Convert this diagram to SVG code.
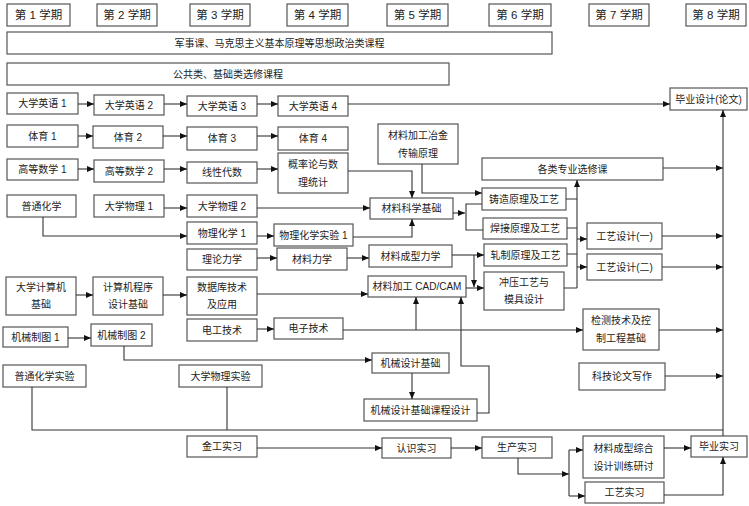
<svg xmlns="http://www.w3.org/2000/svg" width="749" height="506" viewBox="0 0 749 506">
<style>
rect{fill:#fff;stroke:#555;stroke-width:1.2}
text{font-family:"Liberation Sans","Noto Sans CJK SC",sans-serif;font-size:10px;fill:#222;text-anchor:middle;dominant-baseline:central}
.h text{font-size:11.5px}
#connectors path{fill:none;stroke:#333;stroke-width:1.1}
.ar{marker-end:url(#a)}
</style>
<defs>
<marker id="a" markerWidth="7" markerHeight="6" refX="7" refY="3" orient="auto" markerUnits="userSpaceOnUse"><path d="M0,0 L7,3 L0,6 z" fill="#111"/></marker>
</defs>
<rect x="0" y="0" width="749" height="506" style="fill:#fff;stroke:none"/>
<g class="h">
<g id="s1"><rect x="7" y="4" width="63" height="22"/><text x="38.5" y="15">第 1 学期</text></g>
<g id="s2"><rect x="97" y="4" width="60" height="22"/><text x="127" y="15">第 2 学期</text></g>
<g id="s3"><rect x="190" y="4" width="60" height="22"/><text x="220" y="15">第 3 学期</text></g>
<g id="s4"><rect x="287" y="4" width="61" height="22"/><text x="317.5" y="15">第 4 学期</text></g>
<g id="s5"><rect x="387" y="4" width="61" height="22"/><text x="417.5" y="15">第 5 学期</text></g>
<g id="s6"><rect x="489" y="4" width="62" height="22"/><text x="520" y="15">第 6 学期</text></g>
<g id="s7"><rect x="589" y="4" width="60" height="22"/><text x="619" y="15">第 7 学期</text></g>
<g id="s8"><rect x="686" y="4" width="60" height="22"/><text x="716" y="15">第 8 学期</text></g>
</g>
<g id="b1"><rect x="7" y="32" width="545" height="22"/><text x="279.5" y="43">军事课、马克思主义基本原理等思想政治类课程</text></g>
<g id="b2"><rect x="7" y="63" width="442" height="22"/><text x="228" y="74">公共类、基础类选修课程</text></g>

<g id="en1"><rect x="7" y="93" width="71" height="21"/><text x="42.5" y="103.5">大学英语 1</text></g>
<g id="en2"><rect x="94" y="95" width="70" height="20"/><text x="129" y="105">大学英语 2</text></g>
<g id="en3"><rect x="187" y="96" width="70" height="20"/><text x="222" y="106">大学英语 3</text></g>
<g id="en4"><rect x="278" y="96" width="70" height="20"/><text x="313" y="106">大学英语 4</text></g>
<g id="bysj"><rect x="670" y="88" width="77" height="22"/><text x="708.5" y="99">毕业设计(论文)</text></g>

<g id="pe1"><rect x="7" y="125" width="71" height="22"/><text x="42.5" y="136">体育 1</text></g>
<g id="pe2"><rect x="93" y="126" width="70" height="22"/><text x="128" y="137">体育 2</text></g>
<g id="pe3"><rect x="187" y="127" width="70" height="23"/><text x="222" y="138.5">体育 3</text></g>
<g id="pe4"><rect x="278" y="127" width="70" height="23"/><text x="313" y="138.5">体育 4</text></g>

<g id="m1"><rect x="7" y="159" width="71" height="21"/><text x="42.5" y="169.5">高等数学 1</text></g>
<g id="m2"><rect x="94" y="160" width="70" height="22"/><text x="129" y="171">高等数学 2</text></g>
<g id="m3"><rect x="187" y="162" width="70" height="21"/><text x="222" y="172.5">线性代数</text></g>
<g id="m4"><rect x="278" y="153" width="70" height="40"/><text x="313" y="164.5">概率论与数</text><text x="313" y="182">理统计</text></g>

<g id="yejin"><rect x="378" y="124" width="80" height="40"/><text x="418" y="135.5">材料加工冶金</text><text x="418" y="153">传输原理</text></g>
<g id="gelei"><rect x="482" y="158" width="181" height="22"/><text x="572.5" y="169">各类专业选修课</text></g>

<g id="chem"><rect x="7" y="195" width="69" height="22"/><text x="41.5" y="206">普通化学</text></g>
<g id="phy1"><rect x="94" y="195" width="70" height="22"/><text x="129" y="206">大学物理 1</text></g>
<g id="phy2"><rect x="187" y="195" width="70" height="22"/><text x="222" y="206">大学物理 2</text></g>
<g id="clkx"><rect x="370" y="198" width="83" height="21"/><text x="411.5" y="208.5">材料科学基础</text></g>
<g id="zhuzao"><rect x="482" y="188" width="84" height="22"/><text x="524" y="199">铸造原理及工艺</text></g>
<g id="hanjie"><rect x="483" y="218" width="84" height="21"/><text x="525" y="228.5">焊接原理及工艺</text></g>
<g id="pchem1"><rect x="187" y="222" width="70" height="22"/><text x="222" y="233">物理化学 1</text></g>
<g id="pchemlab"><rect x="274" y="224" width="79" height="22"/><text x="313.5" y="235">物理化学实验 1</text></g>
<g id="gy1"><rect x="587" y="223" width="75" height="26"/><text x="624.5" y="236">工艺设计(一)</text></g>

<g id="llx"><rect x="187" y="249" width="70" height="21"/><text x="222" y="259.5">理论力学</text></g>
<g id="clx"><rect x="277" y="248" width="70" height="22"/><text x="312" y="259">材料力学</text></g>
<g id="cxlx"><rect x="369" y="245" width="83" height="22"/><text x="410.5" y="256">材料成型力学</text></g>
<g id="zhazhi"><rect x="484" y="244" width="83" height="22"/><text x="525.5" y="255">轧制原理及工艺</text></g>
<g id="gy2"><rect x="587" y="254" width="75" height="26"/><text x="624.5" y="267">工艺设计(二)</text></g>
<g id="cad"><rect x="368" y="276" width="98" height="21"/><text x="417" y="286.5">材料加工 CAD/CAM</text></g>
<g id="chongya"><rect x="484" y="272" width="80" height="38"/><text x="524" y="282.5">冲压工艺与</text><text x="524" y="299.5">模具设计</text></g>

<g id="jsj"><rect x="6" y="277" width="70" height="38"/><text x="41" y="287.5">大学计算机</text><text x="41" y="304.5">基础</text></g>
<g id="cx"><rect x="93" y="277" width="70" height="38"/><text x="128" y="287.5">计算机程序</text><text x="128" y="304.5">设计基础</text></g>
<g id="sjk"><rect x="187" y="277" width="70" height="38"/><text x="222" y="287.5">数据库技术</text><text x="222" y="304.5">及应用</text></g>
<g id="dg"><rect x="187" y="319" width="70" height="22"/><text x="222" y="330">电工技术</text></g>
<g id="dz"><rect x="274" y="318" width="69" height="21"/><text x="308.5" y="328.5">电子技术</text></g>
<g id="jc"><rect x="583" y="309" width="76" height="41"/><text x="621" y="320.5">检测技术及控</text><text x="621" y="338.5">制工程基础</text></g>

<g id="zt1"><rect x="3" y="327" width="65" height="20"/><text x="35.5" y="337">机械制图 1</text></g>
<g id="zt2"><rect x="91" y="324" width="61" height="22"/><text x="121.5" y="335">机械制图 2</text></g>
<g id="jxsj"><rect x="372" y="353" width="77" height="20"/><text x="410.5" y="363">机械设计基础</text></g>
<g id="kjlw"><rect x="579" y="363" width="86" height="27"/><text x="622" y="376.5">科技论文写作</text></g>
<g id="pchemexp"><rect x="3" y="365" width="83" height="22"/><text x="44.5" y="376">普通化学实验</text></g>
<g id="phyexp"><rect x="179" y="365" width="83" height="22"/><text x="220.5" y="376">大学物理实验</text></g>
<g id="jxkc"><rect x="364" y="399" width="113" height="22"/><text x="420.5" y="410">机械设计基础课程设计</text></g>

<g id="jg"><rect x="187" y="436" width="70" height="21"/><text x="222" y="446.5">金工实习</text></g>
<g id="rs"><rect x="382" y="438" width="69" height="20"/><text x="416.5" y="448">认识实习</text></g>
<g id="sc"><rect x="482" y="437" width="70" height="21"/><text x="517" y="447.5">生产实习</text></g>
<g id="zh"><rect x="583" y="436" width="81" height="42"/><text x="623.5" y="448">材料成型综合</text><text x="623.5" y="466">设计训练研讨</text></g>
<g id="gysx"><rect x="585" y="482" width="79" height="21"/><text x="624.5" y="492.5">工艺实习</text></g>
<g id="bysx"><rect x="691" y="436" width="56" height="21"/><text x="719" y="446.5">毕业实习</text></g>

<g id="connectors">
<path class="ar" d="M78,104 H94"/>
<path class="ar" d="M164,104 H187"/>
<path class="ar" d="M257,104 H278"/>
<path class="ar" d="M348,104 H670"/>
<path class="ar" d="M78,136 H93"/>
<path class="ar" d="M163,136 H187"/>
<path class="ar" d="M257,136 H278"/>
<path class="ar" d="M78,169 H94"/>
<path class="ar" d="M164,169 H187"/>
<path class="ar" d="M257,169 H278"/>
<path class="ar" d="M348,171 H412 V198"/>
<path class="ar" d="M164,208 H187"/>
<path class="ar" d="M257,208 H370"/>
<path class="ar" d="M43,217 V236 H187"/>
<path class="ar" d="M257,236 H274"/>
<path class="ar" d="M353,237 H412 V219"/>
<path class="ar" d="M422,164 V193 H482"/>
<path class="ar" d="M453,213 H465"/>
<path d="M482,204 H466 V230 H483"/>
<path d="M566,199 H577 M567,228 H577 M567,254 H577 M564,288 H577"/>
<path class="ar" d="M577,288 V180"/>
<path class="ar" d="M577,239 H587"/>
<path class="ar" d="M577,267 H587"/>
<path class="ar" d="M663,168 H723"/>
<path class="ar" d="M662,236 H723"/>
<path class="ar" d="M662,267 H723"/>
<path class="ar" d="M659,330 H723"/>
<path class="ar" d="M665,376 H723"/>
<path class="ar" d="M723,436 V110"/>
<path class="ar" d="M257,258 H277"/>
<path class="ar" d="M347,258 H369"/>
<path class="ar" d="M452,255 H484"/>
<path class="ar" d="M474,255 V287"/>
<path class="ar" d="M466,288 H484"/>
<path class="ar" d="M76,295 H93"/>
<path class="ar" d="M163,295 H187"/>
<path class="ar" d="M257,294 H368"/>
<path class="ar" d="M257,329 H274"/>
<path class="ar" d="M343,330 H583"/>
<path class="ar" d="M416,330 V297"/>
<path class="ar" d="M68,338 H91"/>
<path class="ar" d="M124,346 V360 H372"/>
<path class="ar" d="M412,373 V399"/>
<path class="ar" d="M477,413 H489 V366 H461 V297"/>
<path d="M32,387 V430 H723 M227,387 V430"/>
<path class="ar" d="M257,448 H382"/>
<path class="ar" d="M451,448 H482"/>
<path class="ar" d="M518,458 V474 H569"/>
<path d="M569,450 V496"/>
<path class="ar" d="M569,450 H583"/>
<path class="ar" d="M569,496 H585"/>
<path class="ar" d="M664,448 H691"/>
<path class="ar" d="M664,495 H723 V457"/>
</g>
</svg>
